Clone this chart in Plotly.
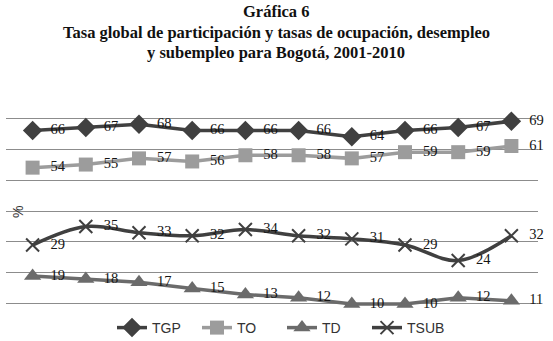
import plotly.graph_objects as go

years = ["2001", "2002", "2003", "2004", "2005", "2006", "2007", "2008", "2009", "2010"]
tgp = [66, 67, 68, 66, 66, 66, 64, 66, 67, 69]
to = [54, 55, 57, 56, 58, 58, 57, 59, 59, 61]
td = [19, 18, 17, 15, 13, 12, 10, 10, 12, 11]
tsub = [29, 35, 33, 32, 34, 32, 31, 29, 24, 32]

title_lines = ["Gráfica 6",
               "Tasa global de participación y tasas de ocupación, desempleo",
               "y subempleo para Bogotá, 2001-2010"]

label_font = dict(family="Liberation Serif", size=14.5, color="#151515")

fig = go.Figure()

def add(name, vals, color, symbol, msize, lw, shape="linear", mline=None):
    marker = dict(symbol=symbol, size=msize, color=color)
    if mline:
        marker["line"] = mline
    fig.add_trace(go.Scatter(
        x=years, y=vals, name=name, mode="lines+markers",
        line=dict(color=color, width=lw, shape=shape, smoothing=1.0),
        marker=marker, hoverinfo="x+y+name",
    ))

def add_labels(vals):
    # invisible wide markers push the labels further right of the points
    fig.add_trace(go.Scatter(
        x=years, y=vals, mode="markers+text", showlegend=False, hoverinfo="skip",
        marker=dict(size=27, color="rgba(0,0,0,0)"),
        text=[str(v) for v in vals], textposition="middle right",
        textfont=label_font, cliponaxis=False,
    ))

add("TGP", tgp, "#404040", "diamond", 15, 3.5)
add("TO", to, "#9c9c9c", "square", 14, 3.5)
add("TD", td, "#6b6b6b", "triangle-up", 15, 3.5)
add("TSUB", tsub, "#404040", "x-thin", 13, 3.5, shape="spline",
    mline=dict(color="#404040", width=2))
for v in (tgp, to, td, tsub):
    add_labels(v)

L, R, T, B = 6, 15, 87, 6
W, H = 553, 341
plot_w = W - L - R
plot_h = H - T - B

def px_x(x):
    return (x - L) / plot_w

def px_y(y):
    return (H - B - y) / plot_h

fig.update_layout(
    width=W, height=H,
    margin=dict(l=L, r=R, t=T, b=B, autoexpand=False),
    paper_bgcolor="white", plot_bgcolor="white",
    showlegend=True,
    legend=dict(orientation="h", x=px_x(112), xanchor="left", y=px_y(328), yanchor="middle",
                font=dict(family="Liberation Sans", size=14, color="#333333"),
                bgcolor="rgba(0,0,0,0)", entrywidth=40, tracegroupgap=0),
    xaxis=dict(type="category", range=[-0.5, 9.5], showticklabels=False,
               showgrid=False, zeroline=False, showline=False, ticks=""),
    yaxis=dict(range=[-0.05, 80.05], dtick=10, tick0=0, showticklabels=False, showgrid=True,
               gridcolor="#8c8c8c", gridwidth=1, zeroline=False, showline=False, ticks=""),
)

for line, ypx in zip(title_lines, [12, 32, 52]):
    fig.add_annotation(text="<b>" + line + "</b>", xref="paper", yref="paper",
                       x=px_x(276), y=px_y(ypx), xanchor="center", yanchor="middle",
                       showarrow=False,
                       font=dict(family="Liberation Serif", size=16.5, color="#111111"))

fig.add_annotation(text="%", xref="paper", yref="paper", x=px_x(18), y=px_y(212),
                   xanchor="center", yanchor="middle", textangle=-90, showarrow=False,
                   font=dict(family="Liberation Sans", size=14, color="#333333"))

fig.write_html("out.html", post_script="document.body.style.margin='0px';",
               config={"displayModeBar": False})
